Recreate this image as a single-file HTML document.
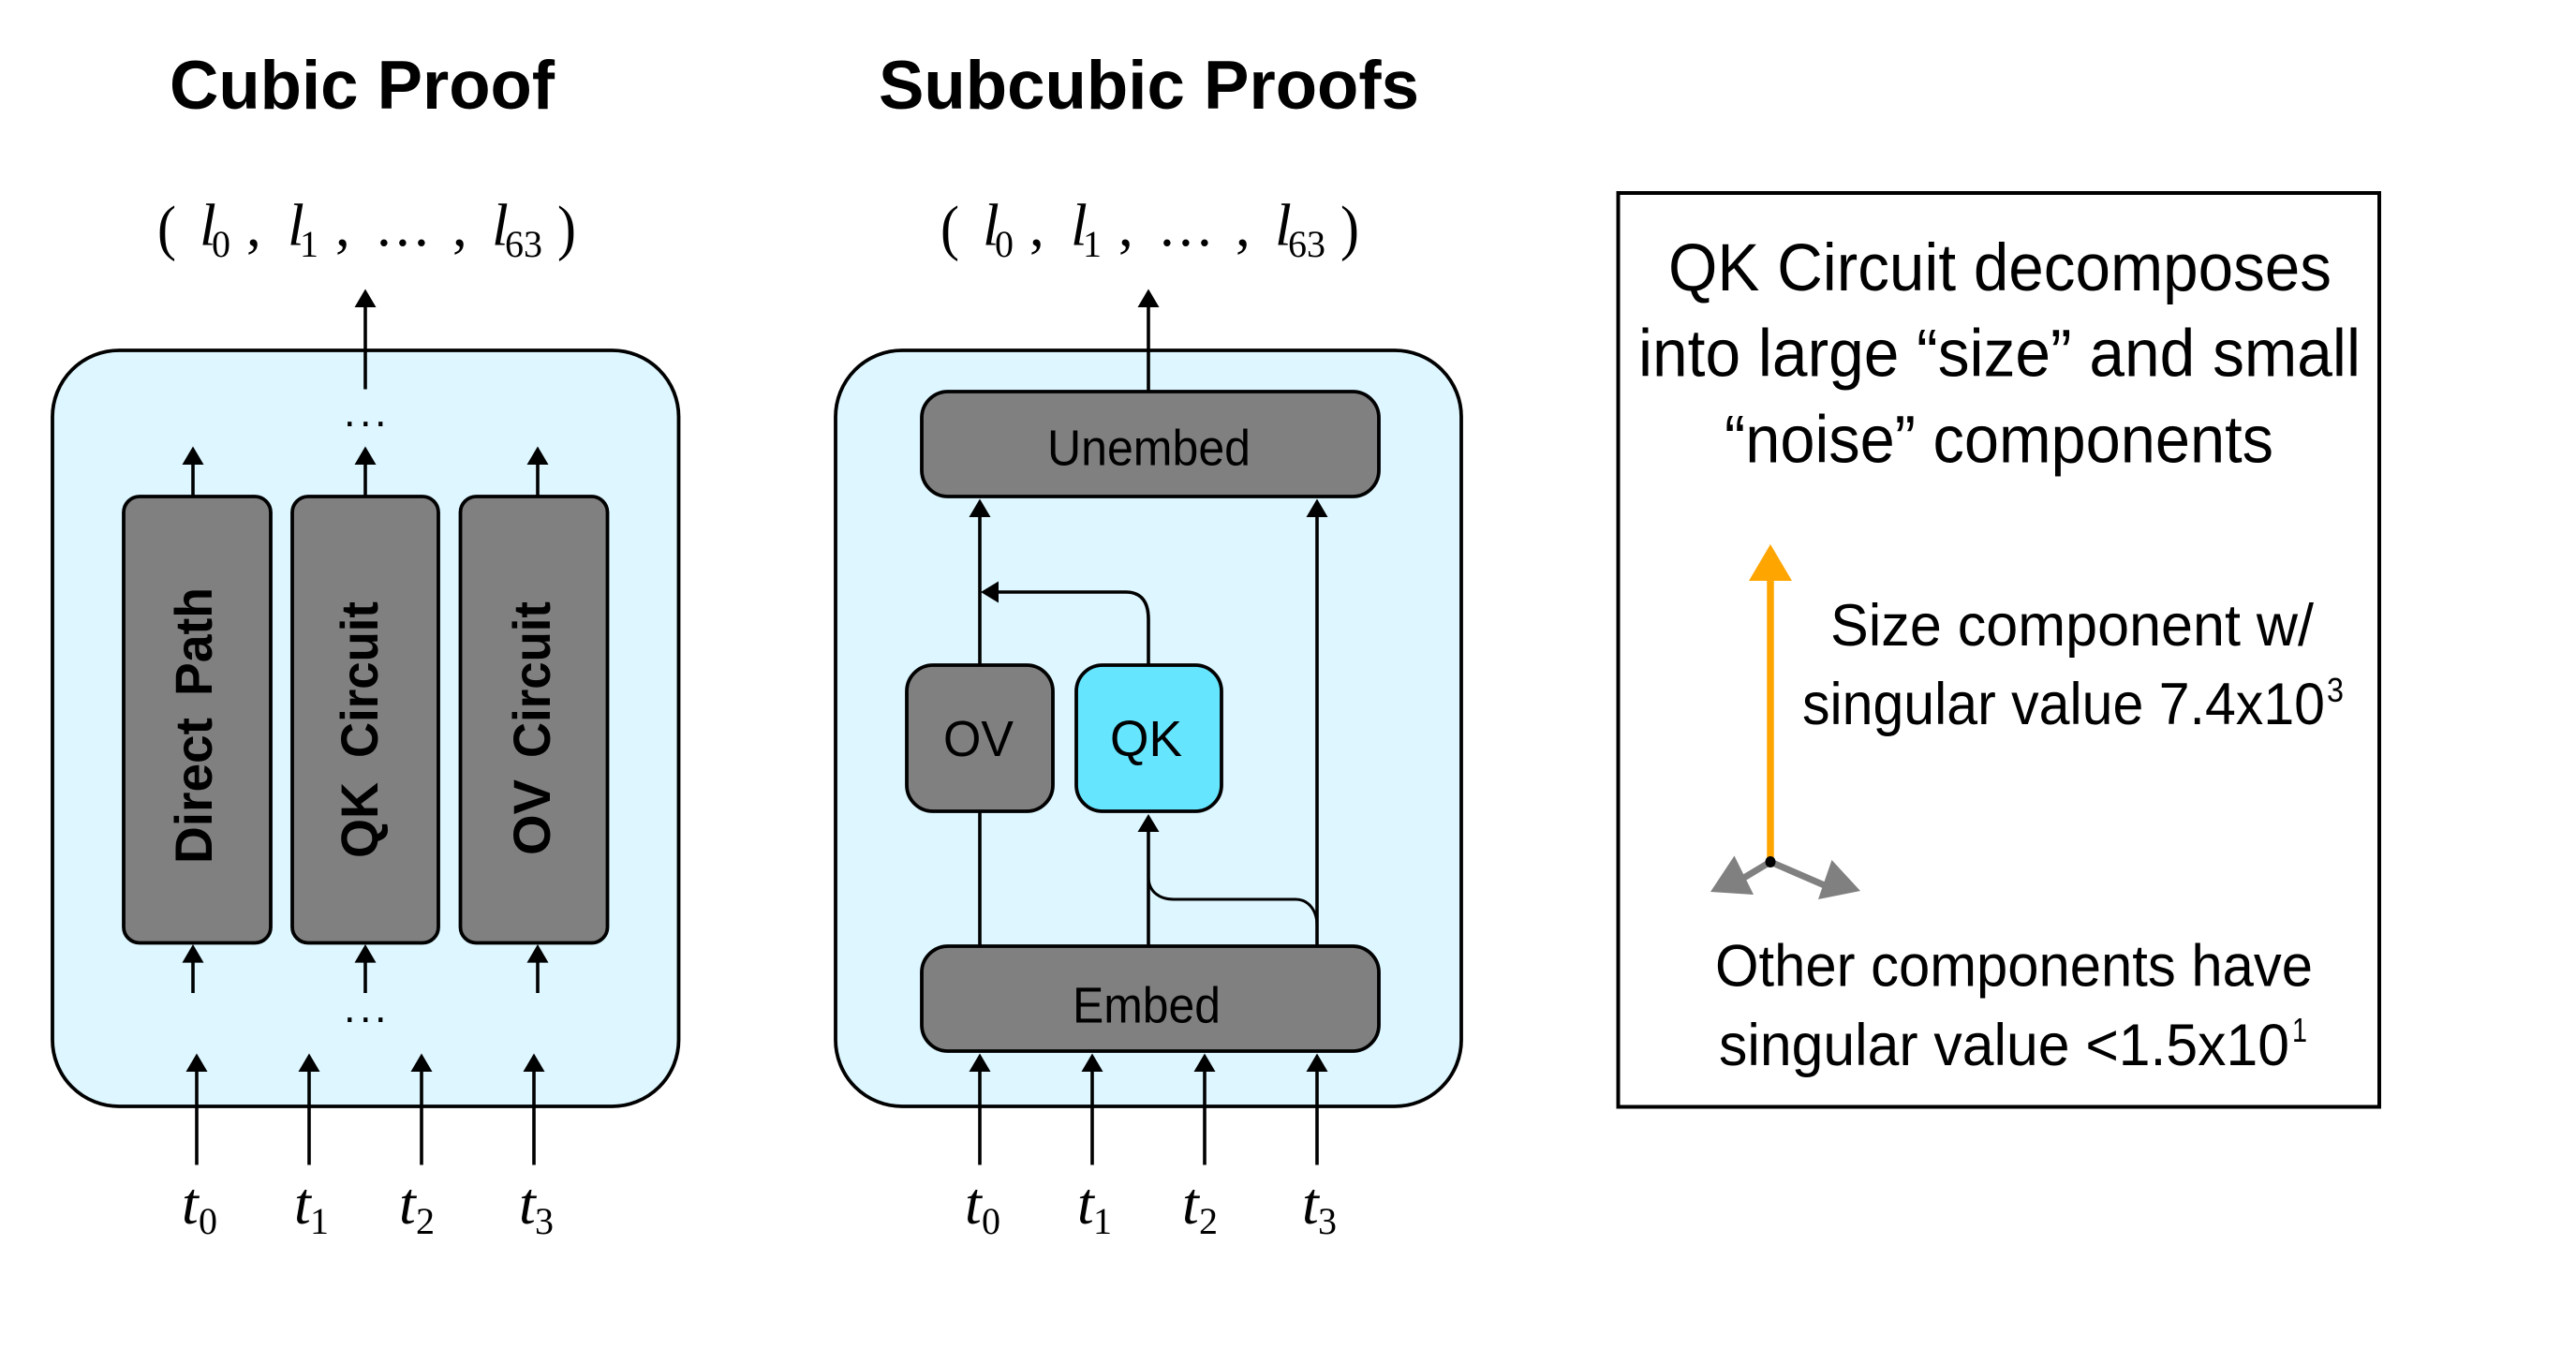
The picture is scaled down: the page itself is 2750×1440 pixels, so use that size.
<!DOCTYPE html>
<html><head><meta charset="utf-8"><style>
html,body{margin:0;padding:0;background:#fff;width:2750px;height:1440px;overflow:hidden}
svg{display:block}
.t{font-family:"Liberation Sans",sans-serif;font-weight:700;font-size:73px}
.m{font-family:"Liberation Serif",serif;font-style:italic;font-size:64px}
.s{font-family:"Liberation Serif",serif;font-size:40px}
.p{font-family:"Liberation Serif",serif;font-size:66px}
.c{font-family:"Liberation Serif",serif;font-size:63px}
.d{font-family:"Liberation Sans",sans-serif;font-size:45px}
.r{font-family:"Liberation Sans",sans-serif;font-weight:700;font-size:56px}
.b{font-family:"Liberation Sans",sans-serif;font-size:54px}
.h{font-family:"Liberation Sans",sans-serif;font-size:71px}
.q{font-family:"Liberation Sans",sans-serif;font-size:63px}
.u{font-family:"Liberation Sans",sans-serif;font-size:36px}
.n{fill:#808080;stroke:#000;stroke-width:3.8}
.o{fill:#ddf6ff;stroke:#000;stroke-width:3.8}
.l{stroke:#000;stroke-width:3.6;fill:none}
</style></head><body>
<svg width="2750" height="1440" viewBox="0 0 2750 1440" xmlns="http://www.w3.org/2000/svg">
<rect width="2750" height="1440" fill="#fff"/>

<!-- Left panel -->
<text class="t" x="181" y="116" textLength="411" lengthAdjust="spacingAndGlyphs">Cubic Proof</text>
<text class="p" x="168" y="265" textLength="20" lengthAdjust="spacingAndGlyphs">(</text>
<text class="m" x="213" y="261.5">l</text><text class="s" x="226" y="274">0</text>
<text class="c" x="263" y="262">,</text>
<text class="m" x="307" y="261.5">l</text><text class="s" x="320" y="274">1</text>
<text class="c" x="358" y="262">,</text>
<text class="c" x="402 422 442" y="262">...</text>
<text class="c" x="483" y="262">,</text>
<text class="m" x="525" y="261.5">l</text><text class="s" x="539" y="274">63</text>
<text class="p" x="595" y="265" textLength="20" lengthAdjust="spacingAndGlyphs">)</text>

<rect class="o" x="56" y="374" width="668.5" height="807" rx="71" ry="71"/>

<path class="l" d="M390 326V415.5"/><polygon points="390,308.5 378.5,328 401.5,328"/>
<text class="d" x="367 384 400" y="455">...</text>

<rect class="n" x="132" y="530" width="157" height="476.5" rx="17"/>
<rect class="n" x="312" y="530" width="156" height="476.5" rx="17"/>
<rect class="n" x="491.5" y="530" width="157" height="476.5" rx="17"/>

<path class="l" d="M206 494V530M390 494V530M574 494V530"/>
<polygon points="206,476.5 194.5,496 217.5,496"/>
<polygon points="390,476.5 378.5,496 401.5,496"/>
<polygon points="574,476.5 562.5,496 585.5,496"/>

<text class="r" transform="translate(226,922) rotate(-90)" textLength="156" lengthAdjust="spacingAndGlyphs">Direct</text>
<text class="r" transform="translate(226,743) rotate(-90)" textLength="116" lengthAdjust="spacingAndGlyphs">Path</text>
<text class="r" transform="translate(403,916) rotate(-90)" textLength="81" lengthAdjust="spacingAndGlyphs">QK</text>
<text class="r" transform="translate(403,809) rotate(-90)" textLength="167" lengthAdjust="spacingAndGlyphs">Circuit</text>
<text class="r" transform="translate(587,913) rotate(-90)" textLength="81" lengthAdjust="spacingAndGlyphs">OV</text>
<text class="r" transform="translate(587,809) rotate(-90)" textLength="167" lengthAdjust="spacingAndGlyphs">Circuit</text>

<path class="l" d="M206 1026V1060M390 1026V1060M574 1026V1060"/>
<polygon points="206,1008 194.5,1027.6 217.5,1027.6"/>
<polygon points="390,1008 378.5,1027.6 401.5,1027.6"/>
<polygon points="574,1008 562.5,1027.6 585.5,1027.6"/>
<text class="d" x="367 384 400" y="1091">...</text>

<path class="l" d="M210 1142V1243.5M330 1142V1243.5M450 1142V1243.5M570 1142V1243.5"/>
<polygon points="210,1124.5 198.5,1144 221.5,1144"/>
<polygon points="330,1124.5 318.5,1144 341.5,1144"/>
<polygon points="450,1124.5 438.5,1144 461.5,1144"/>
<polygon points="570,1124.5 558.5,1144 581.5,1144"/>
<text class="m" x="194" y="1306">t</text><text class="s" x="212" y="1317">0</text>
<text class="m" x="314" y="1306">t</text><text class="s" x="331" y="1317">1</text>
<text class="m" x="426" y="1306">t</text><text class="s" x="444" y="1317">2</text>
<text class="m" x="554" y="1306">t</text><text class="s" x="571" y="1317">3</text>

<!-- Middle panel -->
<text class="t" x="938" y="116" textLength="577" lengthAdjust="spacingAndGlyphs">Subcubic Proofs</text>
<text class="p" x="1004" y="265" textLength="20" lengthAdjust="spacingAndGlyphs">(</text>
<text class="m" x="1049" y="261.5">l</text><text class="s" x="1062" y="274">0</text>
<text class="c" x="1099" y="262">,</text>
<text class="m" x="1143" y="261.5">l</text><text class="s" x="1156" y="274">1</text>
<text class="c" x="1194" y="262">,</text>
<text class="c" x="1238 1258 1278" y="262">...</text>
<text class="c" x="1319" y="262">,</text>
<text class="m" x="1361" y="261.5">l</text><text class="s" x="1375" y="274">63</text>
<text class="p" x="1431" y="265" textLength="20" lengthAdjust="spacingAndGlyphs">)</text>

<rect class="o" x="892" y="374" width="668" height="807" rx="71" ry="71"/>

<path class="l" d="M1226 326V418"/><polygon points="1226,308.5 1214.5,328 1237.5,328"/>

<path class="l" d="M1046 550V1010M1406 550V1010M1226 886V1010"/>
<path class="l" d="M1226 709V661C1226 640 1216 632 1202 632H1064"/>
<polygon points="1047,632 1066,620.5 1066,643.5"/>
<path class="l" style="stroke-width:3" d="M1226 936C1226 952 1238 960 1253 960H1383C1397 960 1406 972 1406 988"/>

<polygon points="1046,532.5 1034.5,552 1057.5,552"/>
<polygon points="1406,532.5 1394.5,552 1417.5,552"/>
<polygon points="1226,869 1214.5,888 1237.5,888"/>

<rect class="n" x="984" y="418" width="488" height="112" rx="28"/>
<text class="b" x="1118" y="496.5" textLength="217" lengthAdjust="spacingAndGlyphs">Unembed</text>

<rect class="n" x="968" y="710" width="156" height="156" rx="28"/>
<text class="b" x="1007" y="807" textLength="75" lengthAdjust="spacingAndGlyphs">OV</text>
<rect class="n" style="fill:#66e5ff" x="1149" y="710" width="155" height="156" rx="28"/>
<text class="b" x="1185" y="807" textLength="77" lengthAdjust="spacingAndGlyphs">QK</text>

<rect class="n" x="984" y="1010" width="488" height="112" rx="28"/>
<text class="b" x="1145" y="1091.5" textLength="158" lengthAdjust="spacingAndGlyphs">Embed</text>

<path class="l" d="M1046 1142V1243.5M1166 1142V1243.5M1286 1142V1243.5M1406 1142V1243.5"/>
<polygon points="1046,1124.5 1034.5,1144 1057.5,1144"/>
<polygon points="1166,1124.5 1154.5,1144 1177.5,1144"/>
<polygon points="1286,1124.5 1274.5,1144 1297.5,1144"/>
<polygon points="1406,1124.5 1394.5,1144 1417.5,1144"/>
<text class="m" x="1030" y="1306">t</text><text class="s" x="1048" y="1317">0</text>
<text class="m" x="1150" y="1306">t</text><text class="s" x="1167" y="1317">1</text>
<text class="m" x="1262" y="1306">t</text><text class="s" x="1280" y="1317">2</text>
<text class="m" x="1390" y="1306">t</text><text class="s" x="1407" y="1317">3</text>

<!-- Right panel -->
<rect x="1727.5" y="206" width="812.5" height="975.5" fill="none" stroke="#000" stroke-width="4"/>

<text class="h" x="1781" y="310" textLength="708" lengthAdjust="spacingAndGlyphs">QK Circuit decomposes</text>
<text class="h" x="1749" y="401.5" textLength="771" lengthAdjust="spacingAndGlyphs">into large “size” and small</text>
<text class="h" x="1841" y="493.5" textLength="586" lengthAdjust="spacingAndGlyphs">“noise” components</text>
<text class="q" x="1954" y="689" textLength="516" lengthAdjust="spacingAndGlyphs">Size component w/</text>
<text class="q" x="1924" y="773" textLength="558" lengthAdjust="spacingAndGlyphs">singular value 7.4x10</text>
<text class="u" x="2484" y="749" textLength="18" lengthAdjust="spacingAndGlyphs">3</text>

<path d="M1890 618V920" stroke="#ffa500" stroke-width="7.5" fill="none"/>
<polygon points="1890,581 1867,620 1913,620" fill="#ffa500"/>
<path d="M1890 920L1860 938M1890 920L1950 946" stroke="#808080" stroke-width="7" fill="none"/>
<polygon points="1851.5,913.5 1826,952 1872,955" fill="#808080"/>
<polygon points="1955.5,918 1986,951 1941,960" fill="#808080"/>
<ellipse cx="1890" cy="920" rx="5.5" ry="6" fill="#000"/>

<text class="q" x="1831" y="1052.5" textLength="638" lengthAdjust="spacingAndGlyphs">Other components have</text>
<text class="q" x="1835" y="1137" textLength="609" lengthAdjust="spacingAndGlyphs">singular value &lt;1.5x10</text>
<text class="u" x="2447" y="1112" textLength="16" lengthAdjust="spacingAndGlyphs">1</text>
</svg>
</body></html>
